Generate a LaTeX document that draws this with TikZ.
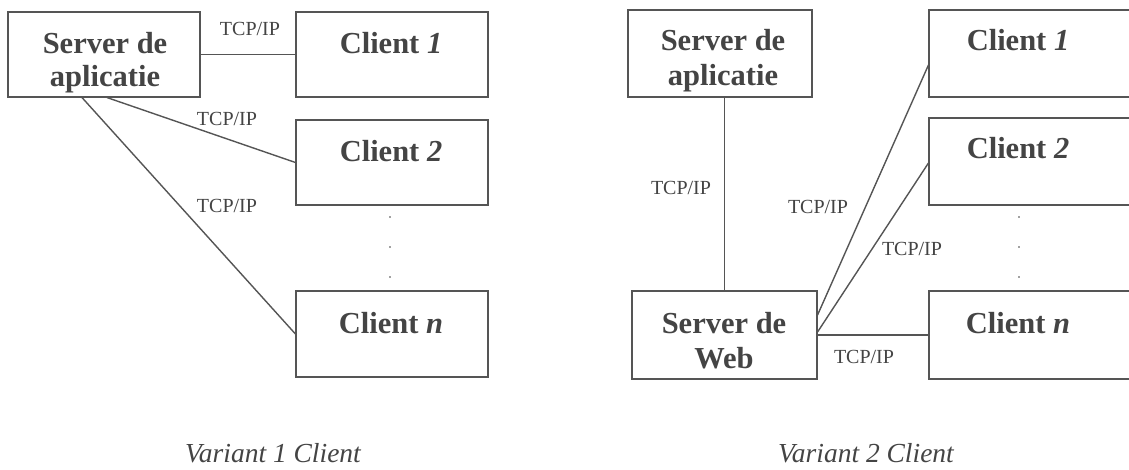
\documentclass[tikz,border=0pt]{standalone}
\usepackage{fontspec}
\setmainfont{Liberation Serif}
\definecolor{ink}{HTML}{444444}
\definecolor{wire}{HTML}{555555}
\tikzset{
  box/.style={draw=wire, line width=1.1pt, inner sep=0pt},
  boxtext/.style={anchor=base, text=ink, font=\fontsize{30.5}{35}\selectfont\bfseries, inner sep=0pt},
  conn/.style={draw=wire, line width=1.4pt},
  thin/.style={draw=wire, line width=1.1pt},
  proto/.style={text=ink, font=\fontsize{20}{22}\selectfont, inner sep=0pt},
  caption/.style={anchor=base, text=ink, font=\fontsize{27.5}{30}\selectfont\itshape, inner sep=0pt},
  dotmark/.style={circle, fill=ink, inner sep=0pt, minimum size=1.8pt}
}
\begin{document}
\begin{tikzpicture}[x=1pt, y=-1pt]
\useasboundingbox (0,0) rectangle (1129,470);
\clip (0,0) rectangle (1129,470);
\fill[white] (0,0) rectangle (1129,470);

% ---------- Variant 1 ----------
\node[box, minimum width=192pt, minimum height=85pt] (srvA) at (104,54.5) {};
\node[boxtext] (srvAt1) at (105,54) {Server de};
\node[boxtext] (srvAt2) at (105,87) {aplicatie};

\node[box, minimum width=192pt, minimum height=85pt] (c1A) at (392,54.5) {};
\node[boxtext] (c1At) at (391,54) {Client \textit{1}};
\node[box, minimum width=192pt, minimum height=85pt] (c2A) at (392,162.5) {};
\node[boxtext] (c2At) at (391,162) {Client \textit{2}};
\node[box, minimum width=192pt, minimum height=86pt] (cnA) at (392,334) {};
\node[boxtext] (cnAt) at (391,333) {Client \textit{n}};

\node[dotmark] (dA1) at (390,217) {};
\node[dotmark] (dA2) at (390,247) {};
\node[dotmark] (dA3) at (390,277) {};

\draw[thin] (srvA.east) -- (c1A.west);
\draw[conn] ([xshift=3pt]srvA.south) -- (c2A.west);
\draw[conn] ([xshift=-22pt]srvA.south) -- (cnA.west);

\node[proto] (pA1) at (250,29) {TCP/IP};
\node[proto] (pA2) at (227,119) {TCP/IP};
\node[proto] (pA3) at (227,206) {TCP/IP};

\node[caption] (capA) at (273,462) {Variant 1 Client};

% ---------- Variant 2 ----------
\node[box, minimum width=184pt, minimum height=87pt] (srvB) at (720,53.5) {};
\node[boxtext] (srvBt1) at (723,51) {Server de};
\node[boxtext] (srvBt2) at (723,86) {aplicatie};

\node[box, minimum width=185pt, minimum height=88pt] (web) at (724.5,335) {};
\node[boxtext] (webt1) at (724,333) {Server de};
\node[boxtext] (webt2) at (724,368) {Web};

\node[box, minimum width=220pt, minimum height=87pt] (c1B) at (1039,53.5) {};
\node[boxtext] (c1Bt) at (1018,51) {Client \textit{1}};
\node[box, minimum width=220pt, minimum height=87pt] (c2B) at (1039,161.5) {};
\node[boxtext] (c2Bt) at (1018,159) {Client \textit{2}};
\node[box, minimum width=220pt, minimum height=88pt] (cnB) at (1039,335) {};
\node[boxtext] (cnBt) at (1018,333) {Client \textit{n}};

\node[dotmark] (dB1) at (1019,217) {};
\node[dotmark] (dB2) at (1019,247) {};
\node[dotmark] (dB3) at (1019,277) {};

\draw[thin] (web.north) -- (web.north |- srvB.south);
\draw[conn] ([yshift=20pt]web.east) -- ([yshift=-11.5pt]c1B.west);
\draw[conn] ([yshift=3pt]web.east) -- ([yshift=-1.5pt]c2B.west);
\draw[thin] (web.east) -- (cnB.west);

\node[proto] (pB1) at (681,188) {TCP/IP};
\node[proto] (pB2) at (818,207) {TCP/IP};
\node[proto] (pB3) at (912,249) {TCP/IP};
\node[proto] (pB4) at (864,357) {TCP/IP};

\node[caption] (capB) at (866,462) {Variant 2 Client};
\end{tikzpicture}
\end{document}
